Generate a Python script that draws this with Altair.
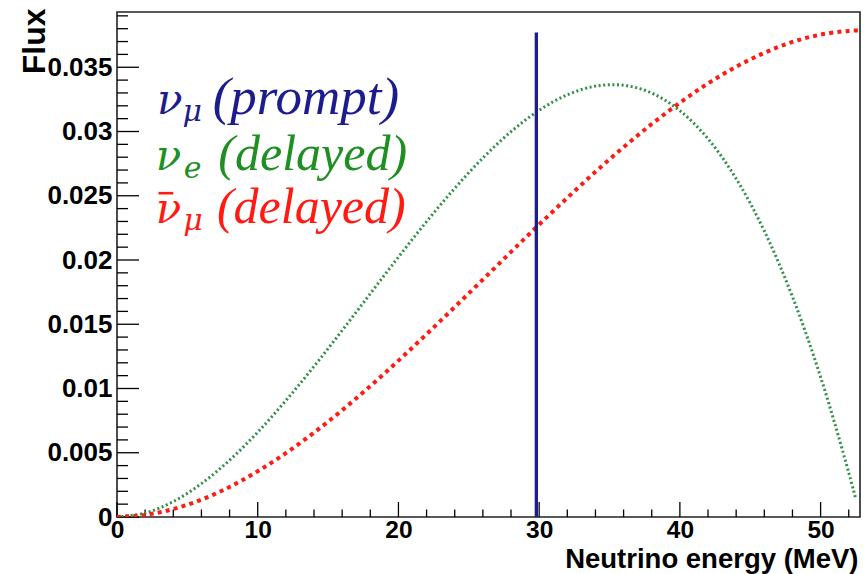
import altair as alt
import pandas as pd

# ---- data ----
energy = [0, 2, 4, 6, 8, 10, 12, 14, 16, 18, 20, 22, 24, 26, 28, 30,
          32, 34, 36, 38, 40, 42, 44, 46, 48, 50, 52]

nue_energy = energy + [52.5]
nue_flux = [0.0, 0.00031, 0.00120, 0.00260, 0.00442, 0.00660, 0.00906,
            0.01172, 0.01452, 0.01738, 0.02023, 0.02299, 0.02558, 0.02794,
            0.02999, 0.03165, 0.03286, 0.03353, 0.03360, 0.03299, 0.03162,
            0.02943, 0.02633, 0.02226, 0.01714, 0.01090, 0.00346, 0.0014]

numubar_energy = energy + [52.8]
numubar_flux = [0.0, 0.00016, 0.00062, 0.00135, 0.00234, 0.00356, 0.00497,
                0.00657, 0.00831, 0.01019, 0.01217, 0.01423, 0.01634, 0.01848,
                0.02063, 0.02276, 0.02484, 0.02686, 0.02878, 0.03058, 0.03224,
                0.03374, 0.03504, 0.03612, 0.03697, 0.03754, 0.03783, 0.03786]

prompt_energy = [29.8]
prompt_low = [0.0]
prompt_high = [0.0377]

x_major = [0, 10, 20, 30, 40, 50]
x_minor = [2, 4, 6, 8, 12, 14, 16, 18, 22, 24, 26, 28, 32, 34, 36, 38,
           42, 44, 46, 48, 52]
y_major = [0, 0.005, 0.01, 0.015, 0.02, 0.025, 0.03, 0.035]
y_minor = [0.001, 0.002, 0.003, 0.004, 0.006, 0.007, 0.008, 0.009,
           0.011, 0.012, 0.013, 0.014, 0.016, 0.017, 0.018, 0.019,
           0.021, 0.022, 0.023, 0.024, 0.026, 0.027, 0.028, 0.029,
           0.031, 0.032, 0.033, 0.034, 0.036, 0.037, 0.038, 0.039]

# ---- styling ----
W, H = 743, 505
BLUE = "#1c1c8c"
GREEN = "#2f8f45"
GREEN_TXT = "#1f8f24"
RED = "#ff1a12"
AXIS_FONT = "Liberation Sans"

xs = alt.Scale(domain=[0, 52.8], nice=False, zero=False)
ys = alt.Scale(domain=[0, 0.0393], nice=False, zero=False)

x_axis = alt.Axis(values=x_major, format="d", ticks=False, domain=False,
                  grid=False, labelFont=AXIS_FONT, labelFontWeight="bold",
                  labelFontSize=24.5, labelColor="black", labelPadding=1,
                  labelFlush=False,
                  title="Neutrino energy (MeV)", titleFont=AXIS_FONT,
                  titleFontWeight="bold", titleFontSize=27.5, titleColor="black",
                  titleAnchor="end", titleAlign="right", titleX=741,
                  titleY=50.5, titleBaseline="alphabetic")
y_axis = alt.Axis(values=y_major, format="~g", ticks=False, domain=False,
                  grid=False, labelFont=AXIS_FONT, labelFontWeight="bold",
                  labelFontSize=26, labelColor="black", labelPadding=5,
                  labelFlush=False,
                  title="Flux", titleFont=AXIS_FONT, titleFontWeight="bold",
                  titleFontSize=32, titleColor="black", titleAngle=-90,
                  titleAnchor="end", titleAlign="right", titleX=-73,
                  titleY=-4, titleBaseline="alphabetic")


def X(field):
    return alt.X(field, type="quantitative", scale=xs, axis=x_axis)


def Y(field):
    return alt.Y(field, type="quantitative", scale=ys, axis=y_axis)


green = alt.Chart(pd.DataFrame({"E": nue_energy, "F": nue_flux})).mark_line(
    color=GREEN, strokeWidth=3, strokeDash=[2, 2.6],
    interpolate="catmull-rom", clip=True
).encode(x=X("E"), y=Y("F"))

red = alt.Chart(pd.DataFrame({"E": numubar_energy, "F": numubar_flux})).mark_line(
    color=RED, strokeWidth=4, strokeDash=[4, 4.2],
    interpolate="catmull-rom", clip=True
).encode(x=X("E"), y=Y("F"))

blue = alt.Chart(pd.DataFrame({"E": prompt_energy, "lo": prompt_low,
                               "hi": prompt_high})).mark_rule(
    color=BLUE, strokeWidth=3.3
).encode(x=X("E"), y=Y("lo"), y2="hi")

xmaj = alt.Chart(pd.DataFrame({"t": x_major})).mark_rule(
    color="black", strokeWidth=1.3).encode(
    x=X("t"), y=alt.value(H), y2=alt.value(H - 15))
xmin = alt.Chart(pd.DataFrame({"t": x_minor})).mark_rule(
    color="black", strokeWidth=1.3).encode(
    x=X("t"), y=alt.value(H), y2=alt.value(H - 7.5))
ymaj = alt.Chart(pd.DataFrame({"t": y_major})).mark_rule(
    color="black", strokeWidth=1.3).encode(
    y=Y("t"), x=alt.value(0), x2=alt.value(22))
ymin = alt.Chart(pd.DataFrame({"t": y_minor})).mark_rule(
    color="black", strokeWidth=1.3).encode(
    y=Y("t"), x=alt.value(0), x2=alt.value(11))


def label(text, e, f, size, color, font="Liberation Serif"):
    return alt.Chart(pd.DataFrame({"_": [0]})).mark_text(
        text=text, font=font, fontStyle="italic",
        fontSize=size, color=color, align="left", baseline="alphabetic"
    ).encode(x=alt.X(datum=e, type="quantitative", scale=xs, axis=x_axis),
             y=alt.Y(datum=f, type="quantitative", scale=ys, axis=y_axis))


GREEK = "DejaVu Serif"
labels = [
    label("ν", 2.85, 0.0314, 42, BLUE, GREEK),
    label("μ", 4.65, 0.0308, 30, BLUE, GREEK),
    label("(prompt)", 6.8, 0.0314, 53, BLUE),
    label("ν", 2.75, 0.0270, 42, GREEN_TXT, GREEK),
    label("e", 4.75, 0.0264, 30, GREEN_TXT, GREEK),
    label("(delayed)", 7.2, 0.0270, 50, GREEN_TXT),
    label("ν", 2.75, 0.0229, 42, RED, GREEK),
    label("μ", 4.7, 0.0223, 30, RED, GREEK),
    label("(delayed)", 7.1, 0.0229, 50, RED),
]

# macron over the anti-neutrino symbol
macron = alt.Chart(pd.DataFrame({"_": [0]})).mark_rule(
    color=RED, strokeWidth=2.6
).encode(
    x=alt.X(datum=2.95, type="quantitative", scale=xs, axis=x_axis),
    x2=alt.X2(datum=4.0),
    y=alt.Y(datum=0.0252, type="quantitative", scale=ys, axis=y_axis),
)

chart = alt.layer(
    xmin, xmaj, ymin, ymaj, green, red, blue, *labels, macron
).properties(
    width=W, height=H,
    autosize=alt.AutoSizeParams(type="none"),
    padding={"left": 117, "top": 12, "right": 5, "bottom": 57},
    background="white",
).configure_view(stroke="#222222", strokeWidth=1.6)

chart.save("out.html", embed_options={"renderer": "svg", "actions": False})
